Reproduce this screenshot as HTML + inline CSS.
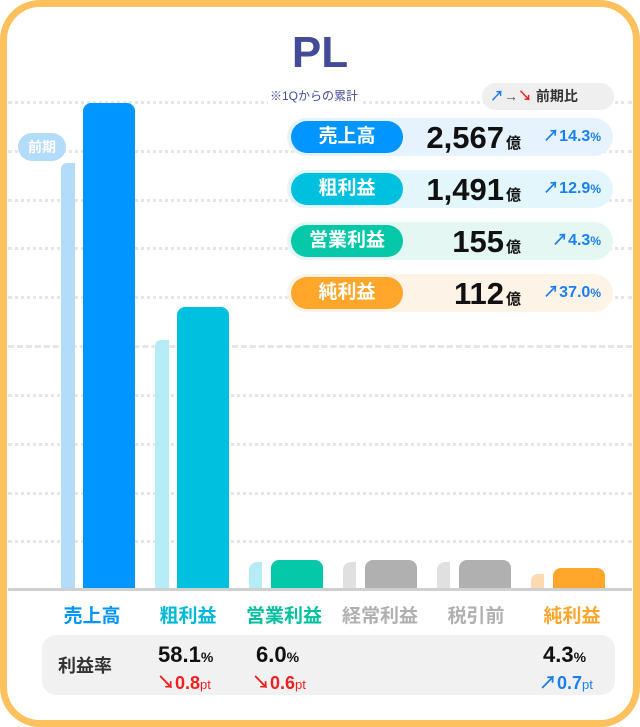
<!DOCTYPE html>
<html><head><meta charset="utf-8"><style>
*{margin:0;padding:0;box-sizing:border-box}
body{width:640px;height:727px;background:#fff;font-family:"Liberation Sans","Noto Sans CJK JP",sans-serif;position:relative;overflow:hidden}
.frame{position:absolute;left:0;top:0;width:640px;height:727px;border:7px solid #FFC05E;border-radius:40px}
.a{position:absolute}
.g{position:absolute;left:8px;width:624px;height:0;border-top:3px dotted #e6e6e6}
.bar{position:absolute;border-radius:8px 8px 0 0}
.pv{position:absolute;border-radius:6px 0 0 0}
.lbl{position:absolute;top:601px;font-size:19px;font-weight:bold;width:100px;text-align:center}
.row{position:absolute;left:287px;width:326px;height:38px;border-radius:19px}
.pill{position:absolute;left:4px;top:3px;width:112px;height:32px;border-radius:16px;color:#fff;font-weight:bold;font-size:19px;text-align:center;line-height:32px}
.val{position:absolute;right:92px;top:0;font-size:31px;font-weight:bold;color:#111;line-height:40px;letter-spacing:0}
.oku{font-size:15px;letter-spacing:0;margin-left:2px}
.pct{position:absolute;right:12px;top:0;line-height:38px;font-size:16px;font-weight:bold;color:#1a7ff0}
.pct small{font-size:12px}
</style></head><body>
<div class="g" style="top:101px"></div>
<div class="g" style="top:150px"></div>
<div class="g" style="top:199px"></div>
<div class="g" style="top:247px"></div>
<div class="g" style="top:296px"></div>
<div class="g" style="top:345px;border-top:3px dashed #e6e6e6"></div>
<div class="g" style="top:394px"></div>
<div class="g" style="top:443px"></div>
<div class="g" style="top:492px"></div>
<div class="g" style="top:540px"></div>

<div class="a" style="left:0;top:28px;width:640px;text-align:center;font-size:44px;font-weight:bold;color:#444b96">PL</div>
<div class="a" style="left:268px;top:87px;font-size:12px;color:#444b96;background:#fff;padding:0 2px">※1Qからの累計</div>

<div class="pv" style="left:61px;top:163px;width:14px;height:426px;background:#b3dcfb"></div>
<div class="bar" style="left:83px;top:103px;width:52px;height:486px;background:#0095ff"></div>
<div class="a" style="left:18px;top:133px;width:48px;height:28px;border-radius:14px;background:#b3dcfb;color:#fff;font-weight:bold;font-size:14px;text-align:center;line-height:28px">前期</div>
<div class="pv" style="left:155px;top:340px;width:14px;height:249px;background:#b5ecf5"></div>
<div class="bar" style="left:177px;top:307px;width:52px;height:282px;background:#00c0e0"></div>
<div class="pv" style="left:249px;top:562px;width:13px;height:27px;background:#b5ecf5;border-radius:8px 0 0 0"></div>
<div class="bar" style="left:271px;top:560px;width:52px;height:29px;background:#05c8a8"></div>
<div class="pv" style="left:343px;top:562px;width:13px;height:27px;background:#e0e0e0;border-radius:8px 0 0 0"></div>
<div class="bar" style="left:365px;top:560px;width:52px;height:29px;background:#b0b0b0"></div>
<div class="pv" style="left:437px;top:562px;width:13px;height:27px;background:#e0e0e0;border-radius:8px 0 0 0"></div>
<div class="bar" style="left:459px;top:560px;width:52px;height:29px;background:#b0b0b0"></div>
<div class="pv" style="left:531px;top:574px;width:13px;height:15px;background:#fdd9b0;border-radius:7px 0 0 0"></div>
<div class="bar" style="left:553px;top:568px;width:52px;height:21px;background:#ffa62b"></div>
<div class="a" style="left:8px;top:588px;width:624px;height:3px;background:#d0d0d0"></div>

<div class="lbl" style="left:42px;color:#0095ff">売上高</div>
<div class="lbl" style="left:138px;color:#00b8d8">粗利益</div>
<div class="lbl" style="left:234px;color:#05c0a0">営業利益</div>
<div class="lbl" style="left:330px;color:#b0b0b0">経常利益</div>
<div class="lbl" style="left:426px;color:#b0b0b0">税引前</div>
<div class="lbl" style="left:522px;color:#ffa62b">純利益</div>

<div class="a" style="left:42px;top:635px;width:573px;height:60px;border-radius:14px;background:#f1f1f1"></div>
<div class="a" style="left:58px;top:652px;font-size:18px;font-weight:bold;color:#333">利益率</div>
<div class="a" style="left:158px;top:642px;font-size:22px;font-weight:bold;color:#111">58.1<span style="font-size:14px">%</span></div>
<div class="a" style="left:157px;top:669px;font-size:18px;font-weight:bold;color:#f02020">↘0.8<span style="font-size:13px;font-weight:normal">pt</span></div>
<div class="a" style="left:256px;top:642px;font-size:22px;font-weight:bold;color:#111">6.0<span style="font-size:14px">%</span></div>
<div class="a" style="left:252px;top:669px;font-size:18px;font-weight:bold;color:#f02020">↘0.6<span style="font-size:13px;font-weight:normal">pt</span></div>
<div class="a" style="left:543px;top:642px;font-size:22px;font-weight:bold;color:#111">4.3<span style="font-size:14px">%</span></div>
<div class="a" style="left:539px;top:669px;font-size:18px;font-weight:bold;color:#1a7ff0">↗0.7<span style="font-size:13px;font-weight:normal">pt</span></div>

<div class="a" style="left:482px;top:83px;width:132px;height:27px;border-radius:14px;background:#efefef;font-size:14px;font-weight:bold;line-height:27px;padding-left:8px;color:#333"><span style="color:#1a7ff0">↗</span><span style="color:#555">→</span><span style="color:#f02020">↘</span> 前期比</div>

<div class="row" style="top:118px;background:#e6f3fe"><div class="pill" style="background:#0095ff">売上高</div><div class="val">2,567<span class="oku">億</span></div><div class="pct">↗14.3<small>%</small></div></div>
<div class="row" style="top:170px;background:#e2f6fb"><div class="pill" style="background:#00c0e0">粗利益</div><div class="val">1,491<span class="oku">億</span></div><div class="pct">↗12.9<small>%</small></div></div>
<div class="row" style="top:222px;background:#e4f7f3"><div class="pill" style="background:#05c8a8">営業利益</div><div class="val">155<span class="oku">億</span></div><div class="pct">↗4.3<small>%</small></div></div>
<div class="row" style="top:274px;background:#fdf3e6"><div class="pill" style="background:#ffa62b">純利益</div><div class="val">112<span class="oku">億</span></div><div class="pct">↗37.0<small>%</small></div></div>

<div class="frame"></div>
</body></html>
